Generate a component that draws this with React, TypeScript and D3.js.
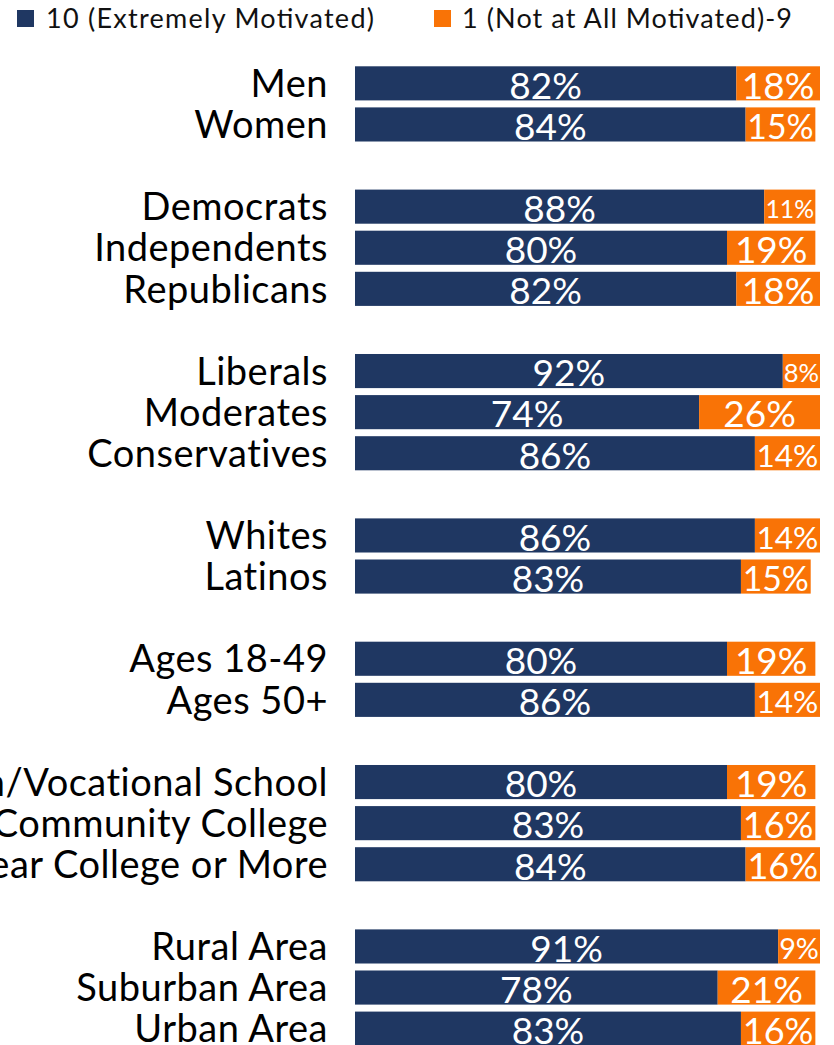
import * as d3 from 'd3'

// rows of the chart, '' marks a blank spacer row between groups
const categories = [
  'Men', 'Women', '',
  'Democrats', 'Independents', 'Republicans', '',
  'Liberals', 'Moderates', 'Conservatives', '',
  'Whites', 'Latinos', '',
  'Ages 18-49', 'Ages 50+', '',
  'Tech/Vocational School', '2-Year Community College', '4-Year College or More', '',
  'Rural Area', 'Suburban Area', 'Urban Area',
]

const extremely = [82, 84, null, 88, 80, 82, null, 92, 74, 86, null, 86, 83, null, 80, 86, null, 80, 83, 84, null, 91, 78, 83]
const notAtAll = [18, 15, null, 11, 19, 18, null, 8, 26, 14, null, 14, 15, null, 19, 14, null, 19, 16, 16, null, 9, 21, 16]

const seriesNames = ['10 (Extremely Motivated)', '1 (Not at All Motivated)-9']

const NAVY = '#1f3762'
const ORANGE = '#f97306'
const FONT = 'Lato, "Open Sans", sans-serif'

const width = 834
const height = 1045

let canvasCtx: CanvasRenderingContext2D | null = null
const measure = (text: string, size: number) => {
  if (!canvasCtx) canvasCtx = document.createElement('canvas').getContext('2d')
  if (!canvasCtx) return text.length * size * 0.6
  canvasCtx.font = `${size}px Lato`
  return canvasCtx.measureText(text).width
}

// shrink value labels that don't fit inside their segment
const fitSize = (text: string, segWidth: number, full: number) => {
  const w = measure(text, full)
  const avail = segWidth * 0.95
  return w > avail ? (full * avail) / w : full
}

export default function App() {
  const x = d3.scaleLinear().domain([0, 100]).range([355, 820])
  const rows = categories.map((_, i) => String(i))
  const y = d3
    .scaleBand<string>()
    .domain(rows)
    .range([62.8, 62.8 + rows.length * 41.1])
    .paddingInner(0.17)
    .paddingOuter(0.085)
  const bw = y.bandwidth()
  const valueSize = 37
  const labelSize = 38

  // legend entries: swatch x, text x, text width
  const legend = [
    { name: seriesNames[0], color: NAVY, sx: 17, tx: 46, tw: 328 },
    { name: seriesNames[1], color: ORANGE, sx: 434, tx: 462, tw: 330 },
  ]

  return (
    <svg
      width={width}
      height={height}
      style={{ position: 'absolute', left: 0, top: 0, display: 'block', background: '#fff' }}
      fontFamily={FONT}
    >
      {legend.map((l) => (
        <g key={l.name}>
          <rect x={l.sx} y={10} width={17} height={17} fill={l.color} />
          <text
            x={l.tx}
            y={27.5}
            fontSize={27}
            fill="#111"
            textLength={l.tw}
            lengthAdjust="spacing"
          >
            {l.name}
          </text>
        </g>
      ))}

      {categories.map((cat, i) => {
        const a = extremely[i]
        const b = notAtAll[i]
        if (!cat || a == null || b == null) return null
        const top = y(String(i)) ?? 0
        const cy = top + bw / 2
        const aW = x(a) - x(0)
        const bW = x(a + b) - x(a)
        const aText = `${a}%`
        const bText = `${b}%`
        const aSize = fitSize(aText, aW, valueSize)
        const bSize = fitSize(bText, bW, valueSize)
        return (
          <g key={cat}>
            <text
              x={328}
              y={cy + labelSize * 0.36}
              fontSize={labelSize}
              letterSpacing={0.5}
              textAnchor="end"
              fill="#000"
            >
              {cat}
            </text>
            <rect x={x(0)} y={top} width={aW} height={bw} fill={NAVY} />
            <rect x={x(a)} y={top} width={bW} height={bw} fill={ORANGE} />
            <text
              x={x(0) + aW / 2}
              y={cy + aSize * 0.36 + 2}
              fontSize={aSize}
              textAnchor="middle"
              fill="#fff"
            >
              {aText}
            </text>
            <text
              x={x(a) + bW / 2}
              y={cy + bSize * 0.36 + 2}
              fontSize={bSize}
              textAnchor="middle"
              fill="#fff"
            >
              {bText}
            </text>
          </g>
        )
      })}
    </svg>
  )
}
